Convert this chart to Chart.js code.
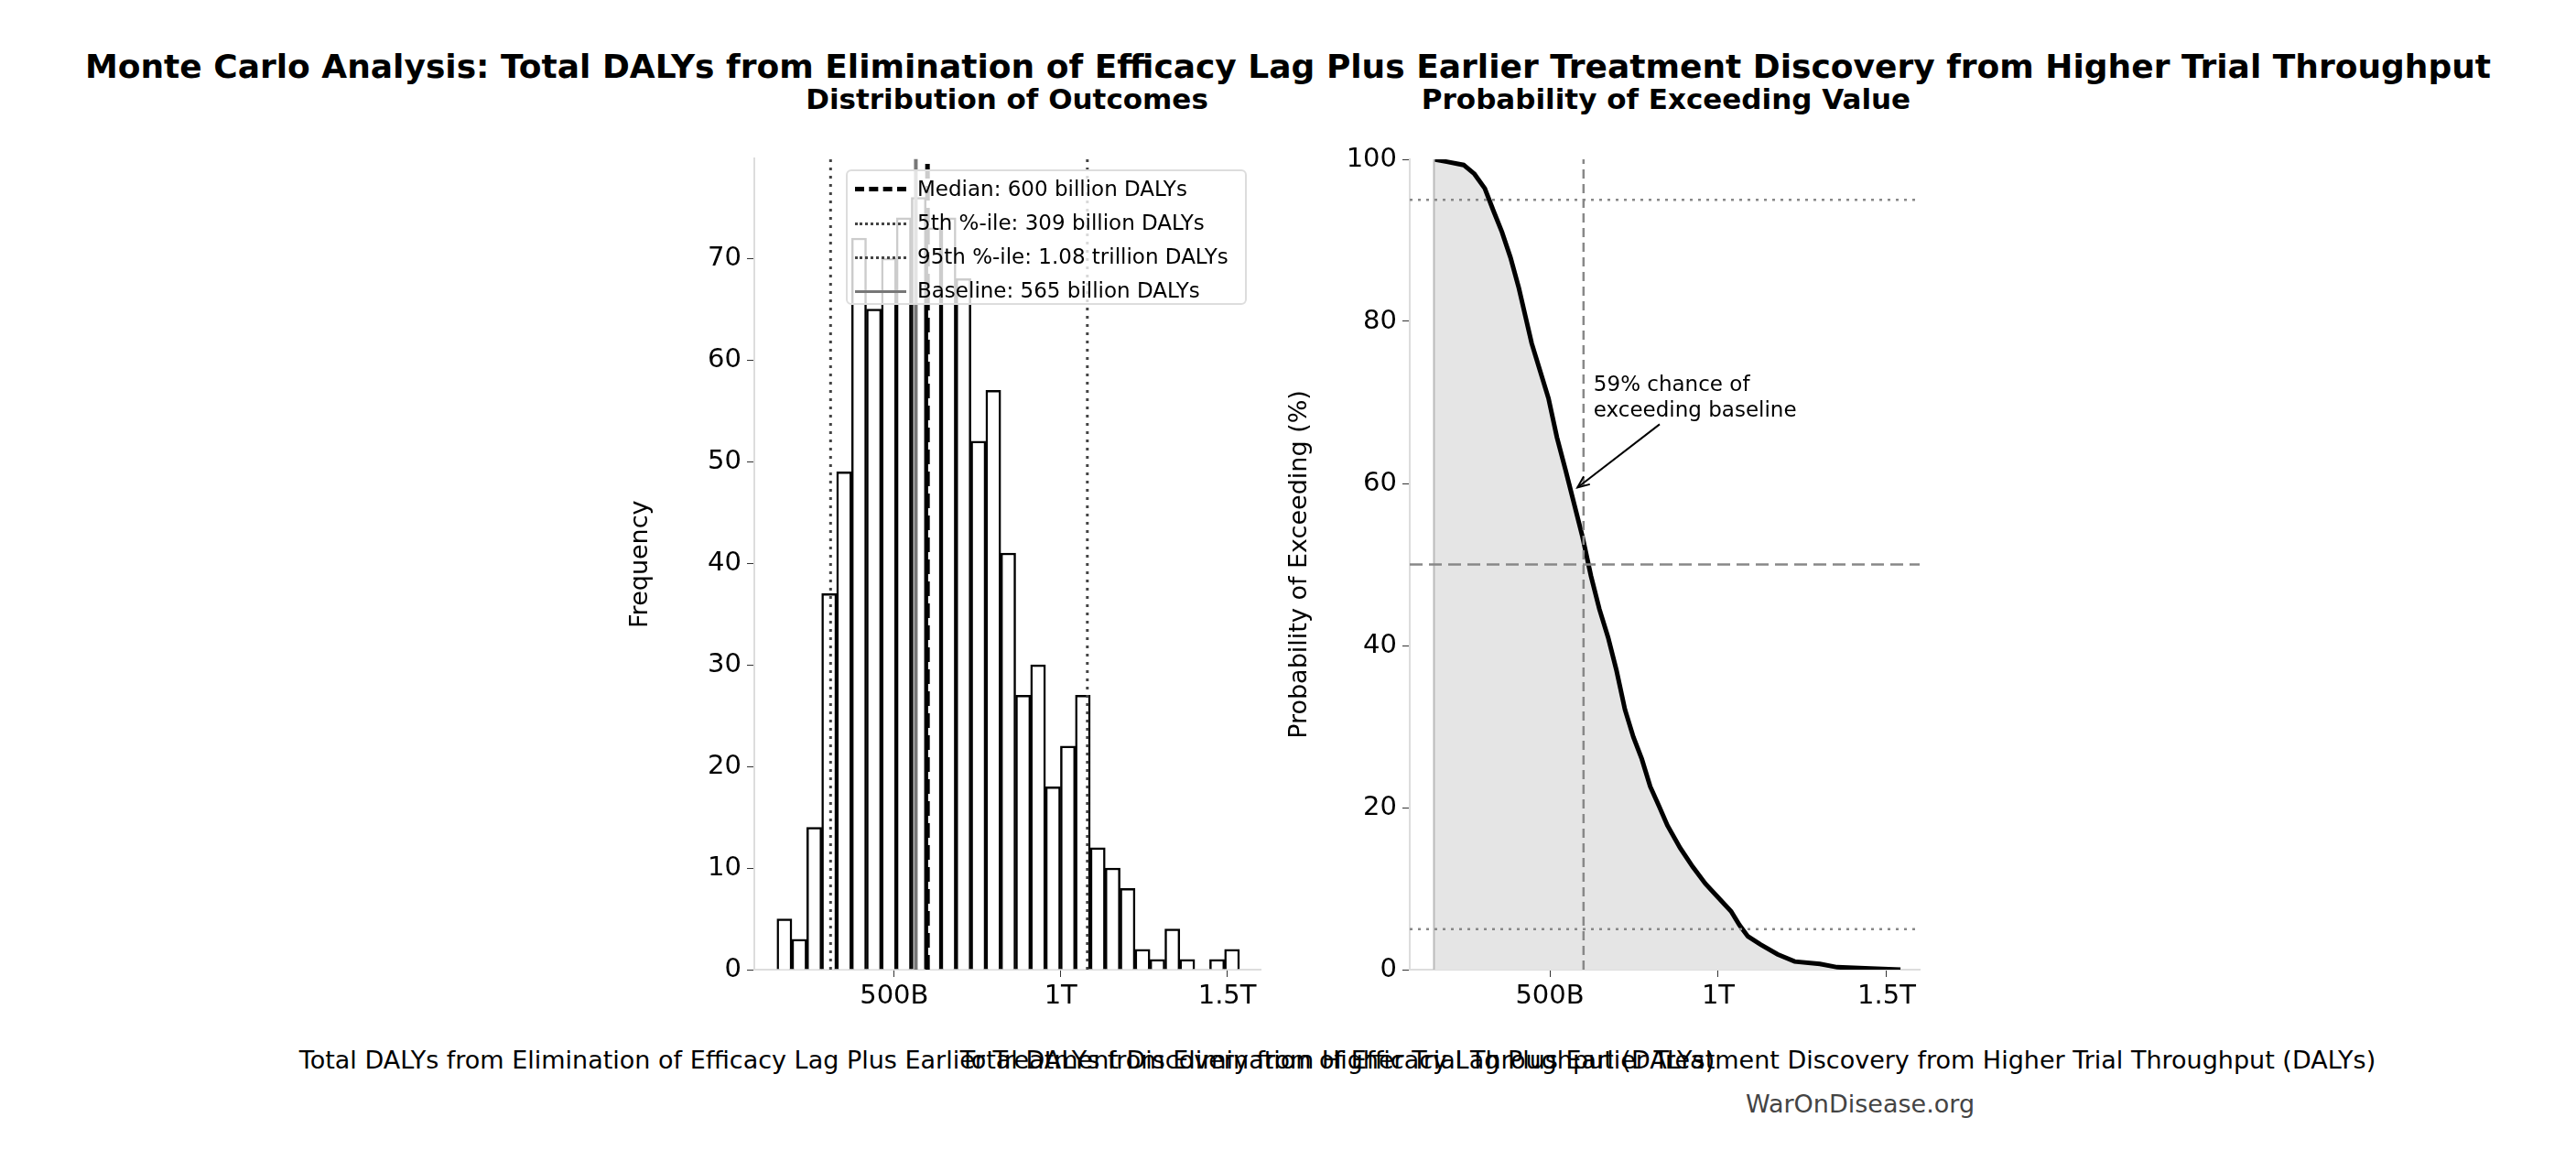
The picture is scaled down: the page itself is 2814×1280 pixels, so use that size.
<!DOCTYPE html>
<html><head><meta charset="utf-8">
<script src="https://cdn.jsdelivr.net/npm/chart.js@4"></script>
<style>
body{margin:0;width:2814px;height:1280px;background:#fff;position:relative;font-family:"DejaVu Sans",sans-serif;overflow:hidden}
.t{position:absolute;white-space:nowrap;transform:translateX(-50%)}
#lg{position:absolute;left:924px;top:185px;width:438px;height:148px;border:2px solid #ddd;border-radius:6px;background:rgba(255,255,255,0.8);font-size:23px;box-sizing:border-box}
#lg div{height:36px;line-height:36px;position:relative;padding-left:76px;margin-top:1px}
#lg span{position:absolute;left:8px;top:18px;width:56px}
</style></head><body>
<div class="t" style="left:1407px;top:52px;font-size:36px;font-weight:bold">Monte Carlo Analysis: Total DALYs from Elimination of Efficacy Lag Plus Earlier Treatment Discovery from Higher Trial Throughput</div>
<div class="t" style="left:1100px;top:90px;font-size:31px;font-weight:bold">Distribution of Outcomes</div>
<div class="t" style="left:1820px;top:90px;font-size:31px;font-weight:bold">Probability of Exceeding Value</div>
<div style="position:absolute;left:680px;top:150px;width:720px;height:950px"><canvas id="c1"></canvas></div>
<div style="position:absolute;left:1400px;top:150px;width:720px;height:950px"><canvas id="c2"></canvas></div>
<div class="t" style="left:1100px;top:1142px;font-size:27px">Total DALYs from Elimination of Efficacy Lag Plus Earlier Treatment Discovery from Higher Trial Throughput (DALYs)</div>
<div class="t" style="left:1822px;top:1142px;font-size:27px">Total DALYs from Elimination of Efficacy Lag Plus Earlier Treatment Discovery from Higher Trial Throughput (DALYs)</div>
<div class="t" style="left:2032px;top:1190px;font-size:27px;color:#444">WarOnDisease.org</div>
<div id="lg">
<div><span style="border-top:5px dashed #000;top:16px"></span>Median: 600 billion DALYs</div>
<div><span style="border-top:3px dotted #444"></span>5th %-ile: 309 billion DALYs</div>
<div><span style="border-top:3px dotted #444"></span>95th %-ile: 1.08 trillion DALYs</div>
<div><span style="border-top:3px solid #777"></span>Baseline: 565 billion DALYs</div>
</div>
<script>
// values in billions of DALYs
const binStart = 148, binWidth = 44.8;
const histCounts = [5,3,14,37,49,72,65,70,74,76,73,74,68,52,57,41,27,30,18,22,27,12,10,8,2,1,4,1,0,1,2];
const median = 600, p5 = 309, p95 = 1080, baseline = 565;
const survX = [156,194,244,276,307,332,358,383,408,427,446,471,496,521,547,572,597,622,647,673,698,723,748,773,798,824,849,887,924,962,1000,1038,1063,1088,1126,1176,1227,1302,1353,1453,1541];
const survY = [100,99.7,99.3,98.2,96.4,93.7,91,87.9,84.1,80.7,77.3,73.9,70.5,65.7,61.6,57.5,53.4,48.6,44.5,41,36.9,32.1,28.7,26,22.6,20.2,17.8,15,12.7,10.6,8.9,7.2,5.5,4.1,3.1,1.9,1.0,0.7,0.3,0.15,0];
const xTicks = [500,1000,1500];
const xTickLabels = ['500B','1T','1.5T'];

Chart.defaults.font.family = '"DejaVu Sans", sans-serif';
Chart.defaults.color = '#000';
Chart.defaults.animation = false;
Chart.defaults.devicePixelRatio = 1;

function xScale(min,max){return {type:'linear',min,max,offset:false,
  afterBuildTicks:s=>{s.ticks=xTicks.map(v=>({value:v}));},
  afterFit:s=>{s.height=41;},
  ticks:{font:{size:29},callback:v=>xTickLabels[xTicks.indexOf(v)]||'',maxRotation:0,padding:4},
  grid:{drawOnChartArea:false,offset:false,tickLength:8,color:'#333'},border:{color:'#ddd',width:2}};}

const ymax1 = 79.8;
const vline=(x,col,w,dash,ym)=>({type:'line',data:[{x,y:0},{x,y:ym}],borderColor:col,borderWidth:w,borderDash:dash,pointRadius:0,fill:false});

new Chart(document.getElementById('c1'),{
  type:'bar',
  data:{datasets:[
    {type:'bar',data:histCounts.map((c,i)=>({x:binStart+binWidth*(i+0.5),y:c})),backgroundColor:'#fff',borderColor:'#000',borderWidth:2.5,barPercentage:1,categoryPercentage:1,order:2},
    Object.assign(vline(median,'#000',5,[16,8],ymax1),{order:0}),
    Object.assign(vline(p5,'#444',3,[3,6],ymax1),{order:0}),
    Object.assign(vline(p95,'#444',3,[3,6],ymax1),{order:0}),
    Object.assign(vline(baseline,'#777',4,[],ymax1),{order:1})
  ]},
  options:{responsive:true,maintainAspectRatio:false,
    layout:{padding:{top:21,right:23,left:0,bottom:0}},
    plugins:{legend:{display:false},tooltip:{enabled:false}},
    scales:{x:xScale(80,1600),
      y:{min:0,max:ymax1,afterFit:s=>{s.width=144;},
        afterBuildTicks:s=>{s.ticks=s.ticks.filter(t=>t.value%10===0);},
        ticks:{stepSize:10,font:{size:29},padding:6},
        grid:{drawOnChartArea:false,tickLength:8,color:'#333'},border:{color:'#ddd',width:2},
        title:{display:true,text:'Frequency',font:{size:27},padding:{bottom:18}}}}}
});

const annot={id:'annot',afterDatasetsDraw(ch){
  const c=ch.ctx,x=ch.scales.x,y=ch.scales.y;
  c.save();c.fillStyle='#000';c.font='23px "DejaVu Sans"';c.textBaseline='top';
  const tx=x.getPixelForValue(630),ty=y.getPixelForValue(73.4);
  c.fillText('59% chance of',tx,ty);c.fillText('exceeding baseline',tx,ty+28);
  const x0=x.getPixelForValue(826),y0=y.getPixelForValue(67.3),x1=x.getPixelForValue(582),y1=y.getPixelForValue(59.5);
  c.strokeStyle='#000';c.lineWidth=2;c.beginPath();c.moveTo(x0,y0);c.lineTo(x1,y1);c.stroke();
  const a=Math.atan2(y1-y0,x1-x0);c.beginPath();
  c.moveTo(x1-14*Math.cos(a-0.4),y1-14*Math.sin(a-0.4));c.lineTo(x1,y1);c.lineTo(x1-14*Math.cos(a+0.4),y1-14*Math.sin(a+0.4));c.stroke();
  c.restore();}};

const hline=(yv,dash,w)=>({data:[{x:84,y:yv},{x:1598,y:yv}],borderColor:'#888',borderWidth:w,borderDash:dash,pointRadius:0,fill:false});
new Chart(document.getElementById('c2'),{
  type:'line',
  data:{datasets:[
    {data:survX.map((v,i)=>({x:v,y:survY[i]})),borderColor:'#000',borderWidth:5,backgroundColor:'#e5e5e5',fill:'origin',pointRadius:0,tension:0,order:3},
    {data:[{x:survX[0],y:0},{x:survX[0],y:100}],borderColor:'#bbb',borderWidth:2,pointRadius:0,fill:false,order:2},
    hline(95,[3,6],2.5),hline(5,[3,6],2.5),hline(50,[14,7],2.5),
    {data:[{x:median,y:0},{x:median,y:100}],borderColor:'#888',borderWidth:2.5,borderDash:[10,6],pointRadius:0,fill:false}
  ]},
  options:{responsive:true,maintainAspectRatio:false,
    layout:{padding:{top:24,right:23,left:0,bottom:0}},
    plugins:{legend:{display:false},tooltip:{enabled:false}},
    scales:{x:xScale(84,1598),
      y:{min:0,max:100,afterFit:s=>{s.width=140;},
        ticks:{stepSize:20,font:{size:29},padding:6},
        grid:{drawOnChartArea:false,tickLength:8,color:'#333'},border:{color:'#ddd',width:2},
        title:{display:true,text:'Probability of Exceeding (%)',font:{size:27},padding:{bottom:12}}}}},
  plugins:[annot]
});
</script>
</body></html>
